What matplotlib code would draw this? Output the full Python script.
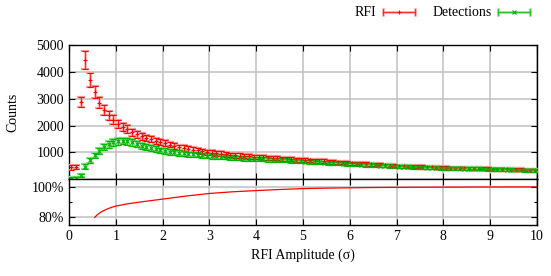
import numpy as np
import matplotlib
matplotlib.use("Agg")
import matplotlib.pyplot as plt
from matplotlib.lines import Line2D

plt.rcParams['font.family'] = ['Liberation Serif', 'DejaVu Serif']
plt.rcParams['font.size'] = 10

# amplitude bins (centres)
amp = np.arange(100) * 0.1 + 0.05

rfi = [440, 460, 2890, 4450, 3700, 3250, 2850, 2575, 2375, 2225,
       2075, 1950, 1875, 1760, 1675, 1595, 1545, 1487, 1437, 1387,
       1337, 1290, 1240, 1190, 1162, 1125, 1100, 1075, 1040, 1012,
       990, 965, 950, 925, 905, 890, 875, 862, 850, 837,
       825, 815, 805, 795, 785, 770, 760, 745, 735, 720,
       710, 700, 690, 680, 670, 655, 645, 630, 620, 605,
       595, 585, 575, 565, 555, 545, 535, 520, 510, 500,
       490, 482, 475, 468, 462, 455, 448, 440, 432, 425,
       420, 416, 412, 408, 404, 400, 397, 393, 389, 385,
       380, 375, 370, 366, 360, 355, 350, 345, 340, 335]
rfi_err = [90, 90, 190, 330, 270, 240, 210, 190, 175, 160,
           150, 140, 135, 130, 125, 120, 118, 115, 112, 110,
           108, 106, 104, 102, 100, 98, 97, 96, 95, 94,
           92, 91, 90, 89, 88, 87, 86, 85, 84, 83,
           82, 81, 80, 79, 78, 77, 76, 75, 74, 73,
           72, 71, 70, 70, 69, 68, 68, 67, 66, 66,
           65, 65, 64, 64, 63, 63, 62, 62, 61, 61,
           60, 60, 60, 59, 59, 59, 58, 58, 58, 57,
           57, 57, 56, 56, 56, 56, 55, 55, 55, 55,
           54, 54, 54, 54, 53, 53, 53, 53, 52, 52]

det = [25, 30, 150, 475, 700, 890, 1060, 1200, 1300, 1375,
       1410, 1425, 1410, 1370, 1320, 1250, 1195, 1150, 1112, 1075,
       1050, 1025, 1000, 975, 962, 937, 925, 912, 890, 875,
       862, 850, 837, 825, 812, 800, 790, 778, 768, 760,
       752, 745, 737, 728, 720, 710, 700, 690, 680, 668,
       658, 648, 640, 630, 622, 612, 602, 592, 582, 572,
       562, 553, 545, 536, 528, 520, 510, 500, 492, 483,
       474, 468, 462, 456, 450, 444, 438, 430, 424, 418,
       412, 408, 405, 402, 398, 395, 391, 388, 384, 380,
       375, 370, 365, 360, 355, 350, 345, 340, 335, 330]
det_err = [50, 50, 60, 80, 95, 105, 110, 115, 120, 122,
           124, 125, 124, 122, 120, 118, 115, 112, 110, 108,
           105, 103, 101, 99, 97, 95, 94, 93, 92, 91,
           90, 89, 88, 87, 86, 85, 84, 83, 82, 81,
           80, 79, 78, 77, 76, 75, 74, 73, 72, 71,
           70, 69, 68, 68, 67, 66, 66, 65, 64, 64,
           63, 63, 62, 62, 61, 61, 60, 60, 59, 59,
           58, 58, 58, 57, 57, 57, 56, 56, 56, 55,
           55, 55, 54, 54, 54, 54, 53, 53, 53, 53,
           52, 52, 52, 52, 51, 51, 51, 51, 50, 50]

ratio_x = [0.55, 0.6, 0.65, 0.7, 0.8, 0.9, 1.0, 1.25, 1.5, 1.75, 2.0, 2.5, 3.0,
           3.5, 4.0, 4.5, 5.0, 5.5, 6.0, 6.5, 7.0, 7.5, 8.0, 9.0, 10.0]
ratio = [80.0, 81.6, 82.8, 83.8, 85.3, 86.5, 87.4, 88.9, 90.0, 91.0, 92.0, 94.0, 95.7,
         96.8, 97.6, 98.3, 98.9, 99.2, 99.4, 99.6, 99.7, 99.8, 99.85, 99.95, 100.0]

RED, RED_L = '#ff0000', '#ff9a9a'
GRN, GRN_L = '#00b400', '#80e480'
GRID = '#c0c0c0'

fig = plt.figure(figsize=(5.51, 2.76), dpi=100)
ax = fig.add_axes([0.1252, 0.3504, 0.8494, 0.4866])
ax2 = fig.add_axes([0.1252, 0.1848, 0.8494, 0.1656], sharex=ax)


def gp_errorbar(a, x, y, e, c, cl, m):
    a.errorbar(x, y, yerr=e, fmt='none', ecolor=cl, elinewidth=1.8,
               capsize=2.6, capthick=1.6, zorder=3)
    a.errorbar(x, y, yerr=e, fmt=m, color=c, ecolor=c, elinewidth=0.5,
               capsize=2.4, capthick=0.5, markersize=3.5, markeredgewidth=0.8,
               zorder=4)


gp_errorbar(ax, amp, rfi, rfi_err, RED, RED_L, '+')
gp_errorbar(ax, amp, det, det_err, GRN, GRN_L, 'x')

ax.set_xlim(0, 10)
ax.set_ylim(0, 5000)
ax.set_yticks([1000, 2000, 3000, 4000, 5000])
ax.set_xticks(range(11))
ax.set_ylabel('Counts')
ax.yaxis.set_label_coords(-0.106, 0.5)
ax.grid(True, color=GRID, linewidth=1.1)
ax.set_axisbelow(True)
ax.tick_params(direction='in', top=True, right=True, labelbottom=False,
               length=4, width=0.8)

ax2.plot(ratio_x, ratio, color=RED, linewidth=0.9)
ax2.set_ylim(75, 105)
ax2.set_yticks([80, 100])
ax2.set_yticks([90], minor=True)
ax2.set_yticklabels(['80%', '100%'])
ax2.set_xticks(range(11))
ax2.grid(True, color=GRID, linewidth=1.1)
ax2.set_axisbelow(True)
ax2.tick_params(direction='in', top=True, right=True, length=4, width=0.8)
ax2.tick_params(which='minor', direction='in', right=True, length=2.5, width=0.8)
ax2.set_xlabel('RFI Amplitude (σ)')

for a in (ax, ax2):
    for s in a.spines.values():
        s.set_linewidth(1.0)

# gnuplot style key, drawn at the top right of the figure
def key_entry(x_text, x0, x1, label, c, cl, m):
    y = 1 - 12 / 276
    fig.text(x_text, y, label, ha='right', va='center')
    xm = (x0 + x1) / 2
    h = 3 / 276
    for lw, col in ((1.8, cl), (0.5, c)):
        fig.add_artist(Line2D([x0, x1], [y, y], color=col, lw=lw))
        fig.add_artist(Line2D([x0, x0], [y - h, y + h], color=col, lw=lw))
        fig.add_artist(Line2D([x1, x1], [y - h, y + h], color=col, lw=lw))
    fig.add_artist(Line2D([xm], [y], color=c, marker=m, markersize=3.5,
                          markeredgewidth=0.8, linestyle='none'))


key_entry(376 / 551, 383 / 551, 415 / 551, 'RFI', RED, RED_L, '+')
key_entry(492 / 551, 498 / 551, 530 / 551, 'Detections', GRN, GRN_L, 'x')

fig.savefig('out.png', dpi=100)
